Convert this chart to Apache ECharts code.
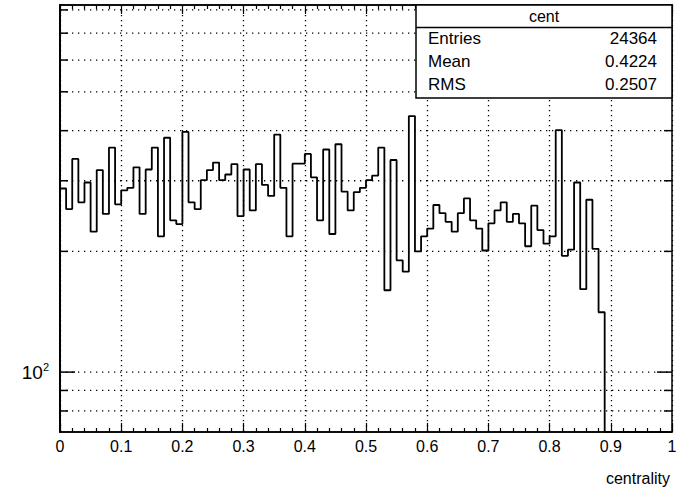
<!DOCTYPE html>
<html>
<head>
<meta charset="utf-8">
<script src="https://cdn.jsdelivr.net/npm/echarts@6/dist/echarts.min.js"></script>
<style>
  html, body { margin: 0; padding: 0; background: #fff; }
  #chart { width: 688px; height: 490px; }
</style>
</head>
<body>
<div id="chart"></div>
<script>
// ---- data ----
const histName = 'cent';
const xTitle = 'centrality';
const xMin = 0, xMax = 1, nBins = 100;
const yMin = 70.9, yMax = 823;
const counts = [
  287, 255, 340, 265, 297, 224, 319, 248, 363, 262,
  284, 288, 324, 248, 320, 363, 218, 384, 239, 234,
  397, 265, 255, 301, 319, 333, 301, 311, 330, 245,
  320, 253, 330, 293, 275, 391, 288, 218, 331, 331,
  350, 306, 239, 359, 221, 370, 282, 253, 281, 288,
  301, 309, 363, 160, 338, 190, 178, 435, 200, 218,
  228, 261, 249, 237, 224, 249, 271, 239, 228, 201,
  235, 253, 265, 237, 248, 235, 206, 260, 226, 209,
  218, 401, 195, 202, 297, 161, 269, 203, 141, 0,
  0, 0, 0, 0, 0, 0, 0, 0, 0, 0
];
const yGridValues = [80, 90, 100, 200, 300, 400, 500, 600, 700, 800];
const yMajorValues = [100];
const statLabels = ['Entries', 'Mean', 'RMS'];
const statValues = ['24364', '0.4224', '0.2507'];

// ---- build ----
const FONT = '"Liberation Sans", Arial, Helvetica, sans-serif';
const binW = (xMax - xMin) / nBins;
const stepData = counts.map((c, i) => [xMin + i * binW, c > 0 ? c : yMin]);
stepData.push([xMax, counts[nBins - 1] > 0 ? counts[nBins - 1] : yMin]);

const G = { left: 60, right: 16, top: 5, bottom: 58 };
const W = 688, H = 490;
const plotRight = W - G.right;

const chart = echarts.init(document.getElementById('chart'), null, { renderer: 'svg' });

const xAxisCommon = {
  type: 'value', min: xMin, max: xMax, interval: 0.1,
  axisLine: { show: true, lineStyle: { color: '#000', width: 1.5 } },
  axisTick: { show: true, inside: true, length: 9, lineStyle: { color: '#000', width: 1.2 } },
  minorTick: { show: true, splitNumber: 5, length: 4, lineStyle: { color: '#000', width: 1.2 } },
};

const statsY0 = 5, statsY1 = 98, statsX0 = 416, statsX1 = plotRight;
const rowYs = [38, 61, 84];
const graphics = [
  { type: 'rect', z: 100, shape: { x: statsX0, y: statsY0, width: statsX1 - statsX0, height: statsY1 - statsY0 },
    style: { fill: '#fff', stroke: '#000', lineWidth: 1.5 } },
  { type: 'line', z: 101, shape: { x1: statsX0, y1: 27.5, x2: statsX1, y2: 27.5 }, style: { stroke: '#000', lineWidth: 1.5 } },
  { type: 'text', z: 102, style: { text: histName, x: (statsX0 + statsX1) / 2, y: 16, align: 'center', verticalAlign: 'middle', font: '16px ' + FONT, fill: '#000' } },
  { type: 'text', z: 102, style: { text: xTitle, x: 670, y: 478, align: 'right', verticalAlign: 'middle', font: '16px ' + FONT, fill: '#000' } }
];
statLabels.forEach((t, i) => {
  graphics.push({ type: 'text', z: 102, style: { text: t, x: 428, y: rowYs[i], align: 'left', verticalAlign: 'middle', font: '17px ' + FONT, fill: '#000' } });
  graphics.push({ type: 'text', z: 102, style: { text: statValues[i], x: 657, y: rowYs[i], align: 'right', verticalAlign: 'middle', font: '17px ' + FONT, fill: '#000' } });
});

const option = {
  animation: false,
  backgroundColor: '#fff',
  grid: { left: G.left, right: G.right, top: G.top, bottom: G.bottom, show: true, borderColor: '#000', borderWidth: 1.5, backgroundColor: 'transparent' },
  xAxis: [
    Object.assign({}, xAxisCommon, {
      position: 'bottom',
      axisLabel: { show: true, color: '#000', fontFamily: FONT, fontSize: 16, margin: 6,
        formatter: v => (Math.round(v * 10) / 10).toString() },
      splitLine: { show: true, lineStyle: { color: '#000', width: 1.3, type: [1.3, 3.7] } }
    }),
    Object.assign({}, xAxisCommon, {
      position: 'top',
      axisLabel: { show: false },
      splitLine: { show: false }
    })
  ],
  yAxis: {
    type: 'log', logBase: 10, min: yMin, max: yMax,
    axisLine: { show: true, lineStyle: { color: '#000', width: 2 } },
    axisTick: { show: false },
    splitLine: { show: false },
    axisLabel: {
      show: true, showMinLabel: false, showMaxLabel: false, margin: 11, color: '#000',
      formatter: v => (Math.abs(v - 100) < 1e-6 ? '{b|10}{s|2}' : ''),
      rich: {
        b: { fontFamily: FONT, fontSize: 19, color: '#000' },
        s: { fontFamily: FONT, fontSize: 11, color: '#000', padding: [0, 0, 11, 0] }
      }
    }
  },
  graphic: graphics,
  series: [
    {
      type: 'custom',
      xAxisIndex: 0,
      silent: true,
      z: 1,
      data: yGridValues.map(v => [xMin, v]),
      renderItem: function (params, api) {
        const v = api.value(1);
        const p = api.coord([xMin, v]);
        const cs = params.coordSys;
        const x0 = cs.x, x1 = cs.x + cs.width, y = p[1];
        const len = yMajorValues.indexOf(v) >= 0 ? 15 : 8;
        return {
          type: 'group',
          children: [
            { type: 'line', shape: { x1: x0, y1: y, x2: x1, y2: y }, style: { stroke: '#000', lineWidth: 1.3, lineDash: [1.3, 4.7] } },
            { type: 'line', shape: { x1: x0, y1: y, x2: x0 + len, y2: y }, style: { stroke: '#000', lineWidth: 1.5 } },
            { type: 'line', shape: { x1: x1 - len, y1: y, x2: x1, y2: y }, style: { stroke: '#000', lineWidth: 1.5 } }
          ]
        };
      }
    },
    {
      type: 'line',
      xAxisIndex: 0,
      step: 'end',
      symbol: 'none',
      z: 5,
      data: stepData,
      lineStyle: { color: '#000', width: 1.8 }
    }
  ]
};
chart.setOption(option);
</script>
</body>
</html>
